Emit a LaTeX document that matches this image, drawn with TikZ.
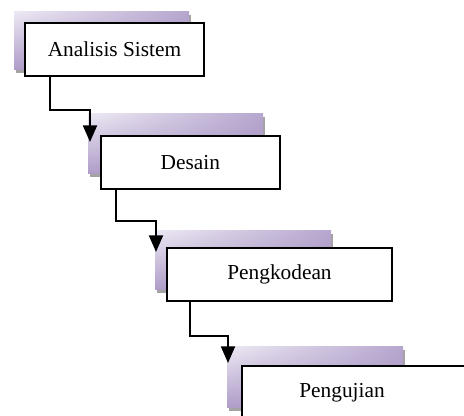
\documentclass[tikz,border=0pt]{standalone}
\usepackage{fontspec}
\setmainfont{Liberation Serif}
\usetikzlibrary{arrows.meta,shadings}
\definecolor{shUL}{HTML}{ECE8F3}
\definecolor{shUR}{HTML}{B6A6CE}
\definecolor{shLL}{HTML}{AE9CC8}
\definecolor{shLR}{HTML}{A593C2}
\definecolor{shGray}{HTML}{A3A3A3}
\tikzset{
  stepbox/.style={draw=black, line width=1.5pt, fill=white, rectangle,
    inner sep=0pt, outer sep=0pt, minimum height=39.75pt,
    font=\fontsize{16}{19}\selectfont},
  steptext/.style={inner sep=0pt, font=\fontsize{16}{19}\selectfont},
  conn/.style={draw=black, line width=1.5pt,
    -{Triangle[width=10.5pt,length=12.5pt]}},
}
\newcommand{\purpleshadow}[4]{%
  \fill[shGray] (#1+2,#2+3) rectangle (#3+2,#4+3);
  \shade[upper left=shUL, upper right=shUR, lower left=shLL, lower right=shLR]
    (#1,#2) rectangle (#3,#4);
}
\begin{document}
\begin{tikzpicture}[x=0.75pt,y=-0.75pt]
\useasboundingbox (0,0) rectangle (464,416);
\begin{scope}
\clip (0,0) rectangle (464,416);
% shadows
\purpleshadow{14}{12}{189}{70}
\purpleshadow{88}{114}{263}{174}
\purpleshadow{155}{231}{331}{290}
\purpleshadow{227}{347}{403}{408}
% boxes
\node[stepbox, minimum width=134.25pt] (b1) at (114.5,49.5) {Analisis Sistem};
\node[stepbox, minimum width=134.5pt] (b2) at (190.35,162.5) {Desain};
\node[stepbox, minimum width=168.75pt] (b3) at (279.5,274.5) {Pengkodean};
\node[stepbox, minimum width=180pt] (b4) at (362,392.5) {};
\node[steptext] (t4) at (342,392.5) {Pengujian};
% connectors
\coordinate (k1) at (50,110);
\coordinate (e1) at (90,142);
\coordinate (k2) at (116,221);
\coordinate (e2) at (156,252);
\coordinate (k3) at (190,336);
\coordinate (e3) at (228,363);
\draw[conn] (b1.south -| k1) -- (k1) -| (e1);
\draw[conn] (b2.south -| k2) -- (k2) -| (e2);
\draw[conn] (b3.south -| k3) -- (k3) -| (e3);
\end{scope}
\end{tikzpicture}
\end{document}
